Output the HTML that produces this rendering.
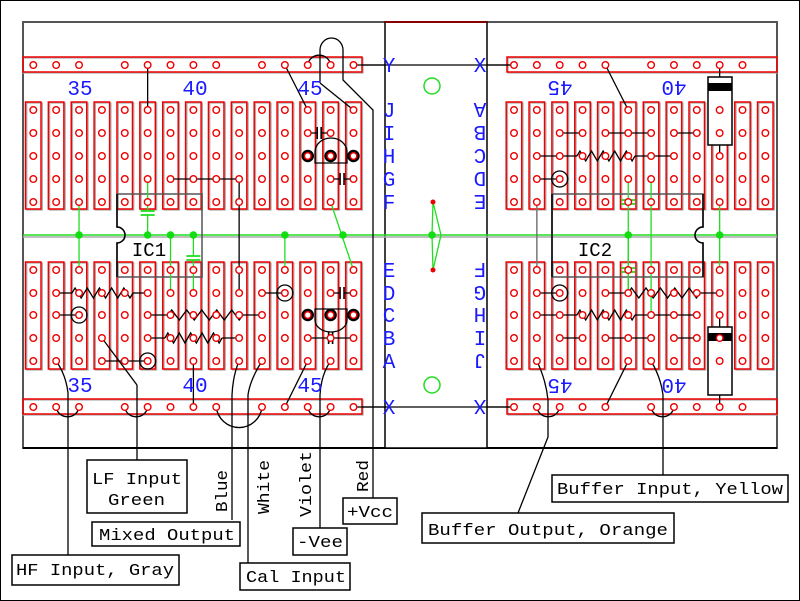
<!DOCTYPE html>
<html><head><meta charset="utf-8"><style>
html,body{margin:0;padding:0;background:#fff;width:800px;height:601px;overflow:hidden}
svg{display:block}
.t{font-family:"Liberation Mono",monospace;font-size:17px;fill:#000}
.b{font-family:"Liberation Mono",monospace;font-size:21px;fill:#1a1aff}
</style></head><body>
<svg id="s" width="800" height="601" viewBox="0 0 800 601" xmlns="http://www.w3.org/2000/svg">
<rect x="0.5" y="0.5" width="799" height="600" fill="#fff" stroke="#000" stroke-width="1"/>
<rect x="23" y="22" width="754" height="426" fill="#fff" stroke="#555" stroke-width="2"/>
<line x1="23" y1="448" x2="777" y2="448" stroke="#000" stroke-width="2"/>
<rect x="385" y="22" width="102" height="426" fill="#fff" stroke="#000" stroke-width="1.5"/>
<line x1="385" y1="22" x2="487" y2="22" stroke="#800" stroke-width="2"/>
<g id="g"></g>
<g class="b">
<text x="80" y="95" text-anchor="middle">35</text>
<text x="195" y="95" text-anchor="middle">40</text>
<text x="310" y="95" text-anchor="middle">45</text>
<text x="80" y="392" text-anchor="middle">35</text>
<text x="195" y="392" text-anchor="middle">40</text>
<text x="310" y="392" text-anchor="middle">45</text>
<text transform="translate(560,81) rotate(180)" text-anchor="middle">45</text>
<text transform="translate(674,81) rotate(180)" text-anchor="middle">40</text>
<text transform="translate(560,379) rotate(180)" text-anchor="middle">45</text>
<text transform="translate(674,379) rotate(180)" text-anchor="middle">40</text>
<text x="389" y="72" text-anchor="middle">Y</text>
<text x="389" y="414" text-anchor="middle">X</text>
<text x="389" y="117" text-anchor="middle">J</text>
<text x="389" y="140" text-anchor="middle">I</text>
<text x="389" y="163" text-anchor="middle">H</text>
<text x="389" y="186" text-anchor="middle">G</text>
<text x="389" y="209" text-anchor="middle">F</text>
<text x="389" y="277" text-anchor="middle">E</text>
<text x="389" y="300" text-anchor="middle">D</text>
<text x="389" y="322" text-anchor="middle">C</text>
<text x="389" y="345" text-anchor="middle">B</text>
<text x="389" y="368" text-anchor="middle">A</text>
<text x="480" y="72" text-anchor="middle">X</text>
<text transform="translate(480,400) rotate(180)" text-anchor="middle">X</text>
<text transform="translate(480,103) rotate(180)" text-anchor="middle">A</text>
<text transform="translate(480,126) rotate(180)" text-anchor="middle">B</text>
<text transform="translate(480,149) rotate(180)" text-anchor="middle">C</text>
<text transform="translate(480,172) rotate(180)" text-anchor="middle">D</text>
<text transform="translate(480,195) rotate(180)" text-anchor="middle">E</text>
<text transform="translate(480,263) rotate(180)" text-anchor="middle">F</text>
<text transform="translate(480,286) rotate(180)" text-anchor="middle">G</text>
<text transform="translate(480,308) rotate(180)" text-anchor="middle">H</text>
<text transform="translate(480,331) rotate(180)" text-anchor="middle">I</text>
<text transform="translate(480,354) rotate(180)" text-anchor="middle">J</text>
</g>
<g class="t">
<text x="149" y="256" text-anchor="middle" style="font-size:19px">IC1</text>
<text x="595" y="256" text-anchor="middle" style="font-size:19px">IC2</text>
</g>
<g fill="#fff" stroke="#000" stroke-width="1.5">
<rect x="87" y="460" width="100" height="53"/>
<rect x="92" y="522" width="148" height="24"/>
<rect x="12" y="555" width="167" height="30"/>
<rect x="240" y="563" width="110" height="27"/>
<rect x="293" y="528" width="54" height="27"/>
<rect x="343" y="498" width="54" height="26"/>
<rect x="422" y="513" width="252" height="30"/>
<rect x="552" y="475" width="236" height="27"/>
</g>
<g class="t">
<text x="92" y="484" textLength="90" lengthAdjust="spacingAndGlyphs">LF Input</text>
<text x="108" y="505" textLength="57" lengthAdjust="spacingAndGlyphs">Green</text>
<text x="99" y="540" textLength="136" lengthAdjust="spacingAndGlyphs">Mixed Output</text>
<text x="16" y="575" textLength="158" lengthAdjust="spacingAndGlyphs">HF Input, Gray</text>
<text x="246" y="582" textLength="100" lengthAdjust="spacingAndGlyphs">Cal Input</text>
<text x="297" y="547" textLength="46" lengthAdjust="spacingAndGlyphs">-Vee</text>
<text x="347" y="517" textLength="46" lengthAdjust="spacingAndGlyphs">+Vcc</text>
<text x="428" y="535" textLength="240" lengthAdjust="spacingAndGlyphs">Buffer Output, Orange</text>
<text x="557" y="494" textLength="226" lengthAdjust="spacingAndGlyphs">Buffer Input, Yellow</text>
<text transform="translate(227,512) rotate(-90)" textLength="42" lengthAdjust="spacingAndGlyphs">Blue</text>
<text transform="translate(269,514) rotate(-90)" textLength="54" lengthAdjust="spacingAndGlyphs">White</text>
<text transform="translate(311,517) rotate(-90)" textLength="66" lengthAdjust="spacingAndGlyphs">Violet</text>
<text transform="translate(368,492) rotate(-90)" textLength="32" lengthAdjust="spacingAndGlyphs">Red</text>
</g>
</svg>
<script>
(function(){
var g=document.getElementById('g');var h='';
function L(i){return 33.3+22.87*i}function R(j){return 514+22.85*j}
var T=[110,133,156,179,202],B=[270,293,315,338,361];
function ln(x1,y1,x2,y2,c,w){h+='<line x1="'+x1+'" y1="'+y1+'" x2="'+x2+'" y2="'+y2+'" stroke="'+(c||'#000')+'" stroke-width="'+(w||1.3)+'"/>'}
function pth(d,c,w){h+='<path d="'+d+'" fill="none" stroke="'+(c||'#000')+'" stroke-width="'+(w||1.3)+'"/>'}
function hole(x,y){h+='<circle cx="'+x+'" cy="'+y+'" r="3.3" fill="#fff" stroke="#e00" stroke-width="1.4"/>'}
function dot(x,y){h+='<circle cx="'+x+'" cy="'+y+'" r="3.8" fill="#1d1"/>'}
function circ(x,y,r,w){h+='<circle cx="'+x+'" cy="'+y+'" r="'+r+'" fill="none" stroke="#000" stroke-width="'+(w||1.3)+'"/>'}
function zig(x1,x2,y,n){var d='M'+x1+' '+y;var s=(x2-x1)/(n*2);for(var k=0;k<n*2;k++){d+=' L'+(x1+s*(k+0.5))+' '+(y+(k%2?5:-5))}d+=' L'+x2+' '+y;pth(d)}
function res(xa,xb,z1,z2,y){ln(xa,y,z1,y);ln(z2,y,xb,y);zig(z1,z2,y,5)}
function capH(x1,x2,y,c){var m=(x1+x2)/2;ln(x1,y,m-2,y,c);ln(m+2,y,x2,y,c);ln(m-2,y-6,m-2,y+6,c,1.6);ln(m+2,y-6,m+2,y+6,c,1.6)}
function capV(x,y1,y2,y,c){ln(x,y1,x,y-2,c);ln(x,y+2,x,y2,c);ln(x-7,y-2,x+7,y-2,c,1.8);ln(x-7,y+2,x+7,y+2,c,1.8)}
function strip(x,y){h+='<rect x="'+(x-6.5)+'" y="'+(y+1)+'" width="15.5" height="107" fill="none" stroke="#aaa" stroke-width="1.2"/>';
 h+='<rect x="'+(x-7.8)+'" y="'+y+'" width="15.5" height="107" fill="none" stroke="#e00" stroke-width="1.5"/>';}
for(var i=0;i<15;i++){strip(L(i),102);strip(L(i),262);}
for(var j=0;j<12;j++){strip(R(j),102);strip(R(j),262);}
h+='<rect x="23" y="58" width="340" height="15" fill="none" stroke="#aaa" stroke-width="1.2"/>';
h+='<rect x="23" y="57" width="339" height="15" fill="none" stroke="#e00" stroke-width="1.5"/>';
h+='<rect x="23" y="400" width="340" height="15" fill="none" stroke="#aaa" stroke-width="1.2"/>';
h+='<rect x="23" y="399" width="339" height="15" fill="none" stroke="#e00" stroke-width="1.5"/>';
h+='<rect x="508" y="58" width="269" height="15" fill="none" stroke="#aaa" stroke-width="1.2"/>';
h+='<rect x="507" y="57" width="270" height="15" fill="none" stroke="#e00" stroke-width="1.5"/>';
h+='<rect x="508" y="400" width="269" height="15" fill="none" stroke="#aaa" stroke-width="1.2"/>';
h+='<rect x="507" y="399" width="270" height="15" fill="none" stroke="#e00" stroke-width="1.5"/>';
ln(23,237,777,237,'#aaa',1.5);ln(23,235,777,235,'#2d2',1.5);
pth('M117 194 H202 V277 H117 V243 A8 8 0 0 0 117 227 Z','#555',1.5);
pth('M552 194 H703 V227 A8 8 0 0 0 703 243 V277 H552 Z','#555',1.5);
pth('M552 194 V277','#000',1.5);pth('M703 194 V227 A8 8 0 0 0 703 243 V277','#000',1.5);
pth('M117 277 V243 A8 8 0 0 0 117 227 V194','#000',1.5);
ln(362,65,514,65);ln(362,407,514,407);
ln(L(5),65,L(5),110);
ln(L(6),179,L(9),179);ln(L(9),179,L(9),293);
ln(L(11),65,L(12),110);
pth('M'+L(12)+' 65 A11.5 11 0 0 1 '+L(13)+' 65');
pth('M320 83 V50 A11.5 12 0 0 1 343 50 V80 L373 110 V498');
ln(320,83,L(14),110);
capH(L(12),L(13),133);
pth('M315 163 V152 A16 14 0 0 1 347 152 V163 Z');
circ(L(12),156,5,2.5);circ(L(13),156,5,2.5);circ(L(14),156,5,2.5);
capH(L(13),L(14),179);
var G='#2d2';
ln(L(2),202,L(2),270,G);dot(L(2),235);
capV(L(5),179,235,213,G);dot(L(5),235);
ln(L(6),235,L(6),293,G);dot(L(6),235);
capV(L(7),235,293,258,G);dot(L(7),235);
ln(L(11),235,L(11),270,G);dot(L(11),235);
ln(L(13),202,L(14),270,G);dot(343,235);
res(L(1),L(5),72,133,293);
ln(L(1),315,L(2),315);circ(L(2),315,8);
res(L(5),L(10),168,243,315);
res(L(5),L(9),165,222,338);
ln(L(3),338,137,385);ln(137,385,137,460);
ln(L(3),361,L(5),361);circ(L(5),361,8);
pth('M'+L(1)+' 361 Q66 375 68 393 V555');
pth('M'+L(1)+' 407 A11.5 11 0 0 0 '+L(2)+' 407');
pth('M'+L(4)+' 407 A11.5 11 0 0 0 '+L(5)+' 407');
ln(L(7),361,L(7),407);
pth('M'+L(9)+' 361 Q233 375 232 395 V520');
pth('M'+L(10)+' 361 Q250 380 248 395 V563');
pth('M'+L(8)+' 407 A23 23 0 0 0 '+L(10)+' 407');
ln(L(10),293,L(11),293);circ(L(11),293,8);
ln(L(12),361,L(11),407);
pth('M'+L(13)+' 361 Q321 375 320 395 V528');
pth('M'+L(12)+' 407 A11.5 11 0 0 0 '+L(13)+' 407');
capH(L(13),L(14),293);
pth('M315 309 V320 A16 12 0 0 0 347 320 V309 Z');
circ(L(12),315,5,2.5);circ(L(13),315,5,2.5);circ(L(14),315,5,2.5);
capH(L(12),L(14),338);
ln(L(14),407,385,407);ln(L(14),65,385,65);
h+='<circle cx="432" cy="86" r="8" fill="none" stroke="#2d2" stroke-width="1.5"/>';
h+='<circle cx="432" cy="385" r="8" fill="none" stroke="#2d2" stroke-width="1.5"/>';
pth('M433 202 L441 235 L433 270 M433 202 L432 235 L433 270',G,1.3);dot(432,235);
h+='<circle cx="433" cy="202" r="2.5" fill="#e00"/><circle cx="433" cy="270" r="2.5" fill="#e00"/>';
ln(R(4),65,R(5),110);
ln(R(2),133,R(3),133);ln(R(4),133,R(6),133);ln(R(7),133,R(8),133);
res(R(1),R(7),577,635,156);
ln(R(1),179,R(2),179);circ(R(2),179,8);
ln(R(9),65,R(9),78);h+='<rect x="708" y="77" width="24" height="68" fill="#fff" stroke="#000" stroke-width="1.5"/><rect x="708" y="83" width="24" height="8" fill="#000"/>';ln(R(9),145,R(9),156);
ln(R(1),202,R(1),270,'#777',1.5);
capV(R(5),179,235,202,G);ln(R(5),235,R(5),293,G);capV(R(5),235,293,270,G);dot(R(5),235);
ln(R(6),179,R(6),315,G);
ln(R(9),202,R(9),270,G);dot(R(9),235);
ln(R(1),293,R(2),293);circ(R(2),293,8);
res(R(4),R(9),628,700,293);
res(R(1),R(8),577,635,315);
ln(R(2),338,R(3),338);ln(R(4),338,R(6),338);ln(R(7),338,R(8),338);
ln(R(9),315,R(9),328);h+='<rect x="708" y="327" width="24" height="68" fill="#fff" stroke="#000" stroke-width="1.5"/><rect x="708" y="333" width="24" height="8" fill="#000"/>';ln(R(9),395,R(9),407);
pth('M'+R(1)+' 361 Q546 380 548 400 V437 L518 513');
pth('M'+R(1)+' 407 A11.5 11 0 0 0 '+R(2)+' 407');
ln(R(5),361,R(4),407);
pth('M'+R(6)+' 361 Q661 378 663 395 V475');
pth('M'+R(6)+' 407 A11.5 11 0 0 0 '+R(7)+' 407');
ln(R(0),407,487,407);ln(R(0),65,487,65);
var railL=[0,1,2,4,5,6,7,8,10,11,12,13,14],railR=[0,1,2,3,4,6,7,8,9,10];
railL.forEach(function(i){hole(L(i),65);hole(L(i),407)});
railR.forEach(function(j){hole(R(j),65);hole(R(j),407)});
for(var i=0;i<15;i++)for(var k=0;k<5;k++){hole(L(i),T[k]);hole(L(i),B[k])}
for(var j=0;j<12;j++)for(var k=0;k<5;k++){hole(R(j),T[k]);hole(R(j),B[k])}
g.innerHTML=h;
})();
</script>
</body></html>
